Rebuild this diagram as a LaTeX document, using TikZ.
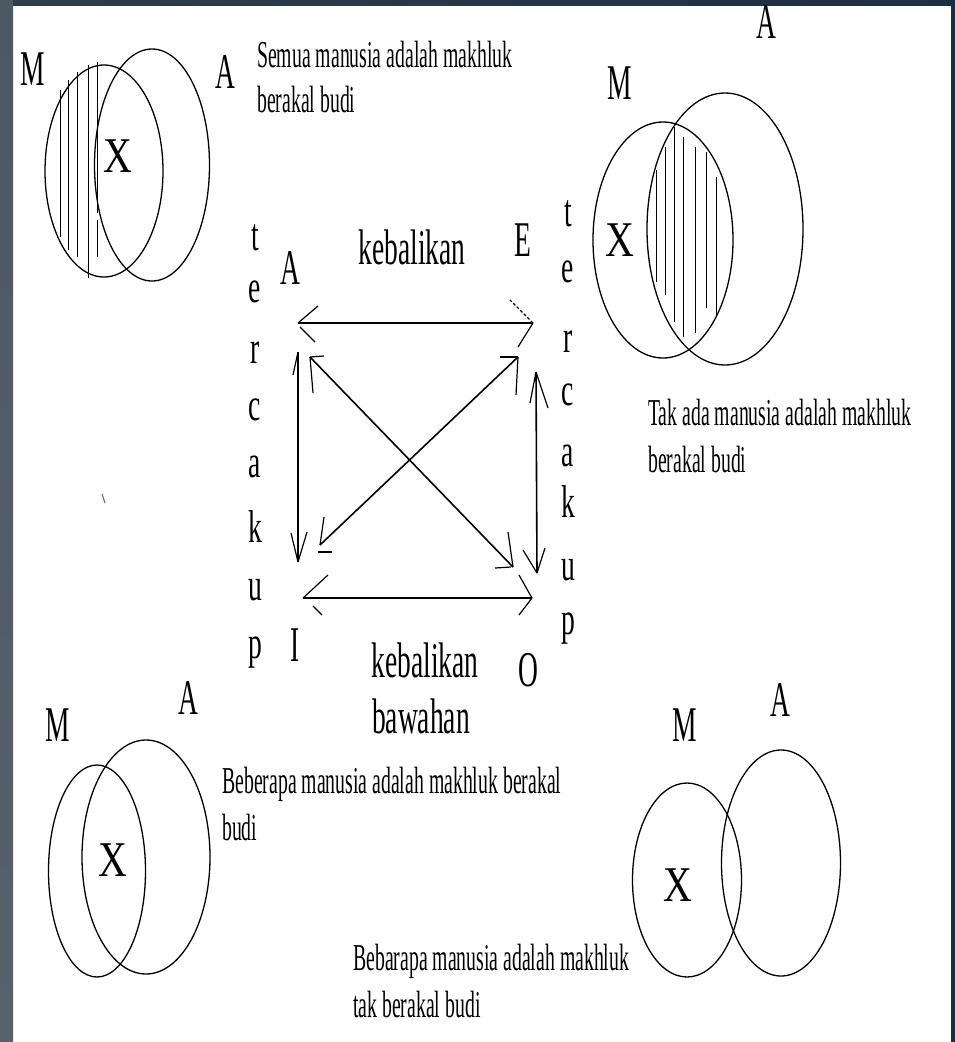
\documentclass[tikz,border=0pt]{standalone}
\usepackage{fontspec}
\newfontfamily\nf[FakeStretch=0.55]{Liberation Serif}
\newfontfamily\tf[FakeStretch=0.52]{Liberation Serif}
\newfontfamily\colf[FakeStretch=0.6]{Liberation Serif}
\newfontfamily\xf[FakeStretch=0.8]{Liberation Serif}
\definecolor{leftA}{RGB}{76,88,100}
\definecolor{leftB}{RGB}{86,97,108}
\definecolor{topA}{RGB}{46,62,78}
\definecolor{topB}{RGB}{28,46,66}
\definecolor{rightS}{RGB}{27,45,64}
\begin{document}
\begin{tikzpicture}[x=1pt,y=-1pt,
  lbl/.style={inner sep=0pt, font=\nf\fontsize{50}{50}\selectfont},
  xl/.style={inner sep=0pt, font=\xf\fontsize{50}{50}\selectfont},
  col/.style={inner sep=0pt, anchor=base, font=\colf\fontsize{46}{46}\selectfont},
  txt/.style={inner sep=0pt, anchor=base west, font=\tf\fontsize{38}{47}\selectfont},
  ven/.style={line width=1.3pt, black},
  hat/.style={line width=0.9pt, black},
  arr/.style={line width=1.6pt, black},
  barb/.style={line width=1.2pt, black}]
\useasboundingbox (0,0) rectangle (955,1042);
\fill[white] (0,0) rectangle (955,1042);
\shade[top color=leftA, bottom color=leftB] (0,0) rectangle (13,1042);
\shade[left color=topA, right color=topB] (13,0) rectangle (955,5);
\fill[rightS] (951,0) rectangle (955,1042);

% ---------- top-left Venn ----------
\draw[ven] (104,171) ellipse [x radius=59pt, y radius=106pt];
\draw[ven] (152,165) ellipse [x radius=57.5pt, y radius=116pt];
\draw[hat] (60,90) -- (60,237);
\draw[hat] (68,80) -- (68,250);
\draw[hat] (77,72) -- (77,257);
\draw[hat] (88,65) -- (88,278);
\draw[hat] (97,62) -- (97,213) (97,220) -- (97,257);
\node[lbl] (mTL) at (33,69) {M};
\node[lbl] (aTL) at (225,72) {A};
\node[xl] (xTL) at (118,156) {X};
\node[txt] (sTL1) at (257,67) {Semua manusia adalah makhluk};
\node[txt] (sTL2) at (257,112) {berakal budi};

% ---------- top-right Venn ----------
\draw[ven] (663,240) ellipse [x radius=70pt, y radius=118pt];
\draw[ven] (725,229) ellipse [x radius=78pt, y radius=136pt];
\draw[hat] (656,170) -- (656,282);
\draw[hat] (665,147) -- (665,295);
\draw[hat] (674,127) -- (674,322);
\draw[hat] (683,137) -- (683,337);
\draw[hat] (695,147) -- (695,333);
\draw[hat] (706,152) -- (706,308);
\draw[hat] (716,177) -- (716,315);
\node[lbl] (mTR) at (620,83) {M};
\node[lbl] (aTR) at (766,22) {A};
\node[xl] (xTR) at (620,240) {X};
\node[txt] (sTR1) at (648,425) {Tak ada manusia adalah makhluk};
\node[txt] (sTR2) at (648,472) {berakal budi};

% ---------- square of opposition ----------
\node[lbl] (sqA) at (290,268) {A};
\node[lbl] (sqE) at (523,240) {E};
\node[lbl] (sqI) at (295,645) {I};
\node[lbl] (sqO) at (528,670) {O};
\node[lbl] (keb1) at (412,247) {kebalikan};
\node[lbl] (keb2) at (425,660) {kebalikan};
\node[lbl] (baw) at (421,716) {bawahan};

\foreach \ch/\yy [count=\i] in {t/250,e/302,r/363,c/420,a/477,k/542,u/600,p/658}
  \node[col] (cl\i) at (255,\yy) {\ch};
\foreach \ch/\yy [count=\i] in {t/226,e/282,r/352,c/405,a/466,k/517,u/580,p/634}
  \node[col] (cr\i) at (568,\yy) {\ch};

\coordinate (hA) at (298,323); \coordinate (hE) at (533,323);
\draw[arr] (hA) -- (hE);
\draw[barb] (hA) -- ++(20,-17);
\draw[barb] ([shift={(2,4)}]hA) -- ++(15,15);
\draw[barb, densely dashed] (hE) -- ++(-23,-23);
\draw[barb] (hE) -- ++(-15,24);

\coordinate (dA) at (310,357); \coordinate (dO) at (513,567);
\draw[arr] (dA) -- (dO);
\draw[barb] (dA) -- ++(14,-1);
\draw[barb] (dA) -- ++(3,36);
\draw[barb] (dO) -- ++(-5,-35);
\draw[barb] ([shift={(-18,1)}]dO) -- ++(16,-1);

\coordinate (dE) at (518,357); \coordinate (dI) at (320,545);
\draw[arr] (dE) -- (dI);
\draw[barb] (dE) -- ++(-18,0);
\draw[barb] (dE) -- ++(-2,38);
\draw[barb] (dI) -- ++(4,-28);
\draw[barb] ([shift={(-2,7)}]dI) -- ++(14,0);

\coordinate (vA) at (298,352); \coordinate (vI) at (298,562);
\draw[arr] (vA) -- (vI);
\draw[barb] (vA) -- ++(-5,23);
\draw[barb] (vI) -- ++(-7,-29);
\draw[barb] (vI) -- ++(9,-30);

\coordinate (vE) at (536,372); \coordinate (vO) at (537,573);
\draw[arr] (vE) -- (vO);
\draw[barb] (vE) -- ++(12,36);
\draw[barb] (vE) -- ++(-6,31);
\draw[barb] (vO) -- ++(-14,-23);
\draw[barb] (vO) -- ++(8,-25);

\coordinate (hI) at (303,598); \coordinate (hO) at (532,598);
\draw[arr] (hI) -- (hO);
\draw[barb] (hI) -- ++(25,-23);
\draw[barb] ([shift={(10,8)}]hI) -- ++(9,9);
\draw[barb] (hO) -- ++(-13,-23);
\draw[barb] (hO) -- ++(-13,17);

\draw[line width=1pt, black!60] (102,494) -- (105,503);

% ---------- bottom-left Venn ----------
\draw[ven] (97,871) ellipse [x radius=48.5pt, y radius=106pt];
\draw[ven] (146,857) ellipse [x radius=64pt, y radius=117pt];
\node[lbl] (mBL) at (58,725) {M};
\node[lbl] (aBL) at (188,698) {A};
\node[xl] (xBL) at (113,860) {X};
\node[txt] (sBL1) at (222,793) {Beberapa manusia adalah makhluk berakal};
\node[txt] (sBL2) at (222,840) {budi};

% ---------- bottom-right Venn ----------
\draw[ven] (687,880) ellipse [x radius=54.5pt, y radius=97pt];
\draw[ven] (781,863) ellipse [x radius=59.5pt, y radius=113pt];
\node[lbl] (mBR) at (685,725) {M};
\node[lbl] (aBR) at (780,700) {A};
\node[xl] (xBR) at (678,885) {X};
\node[txt] (sBR1) at (353,970) {Bebarapa manusia adalah makhluk};
\node[txt] (sBR2) at (353,1017) {tak berakal budi};
\end{tikzpicture}
\end{document}
